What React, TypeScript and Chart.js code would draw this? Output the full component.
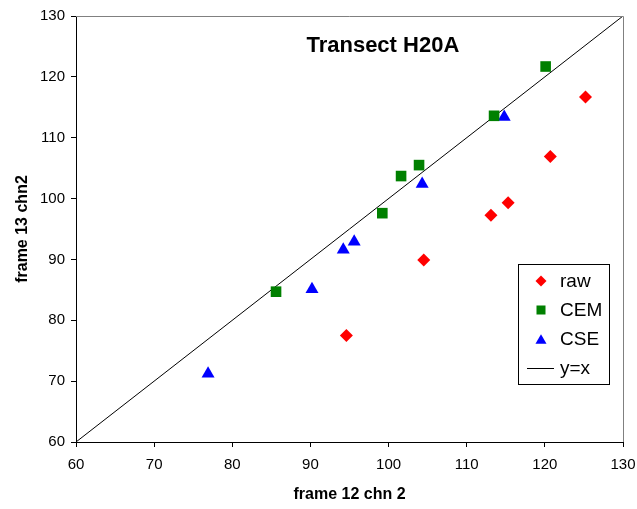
import React, { useEffect, useRef } from "react";
import { Chart, registerables } from "chart.js";

Chart.register(...registerables);

const chartTitle = "Transect H20A";
const xAxisTitle = "frame 12 chn 2";
const yAxisTitle = "frame 13 chn2";
const axisMin = 60;
const axisMax = 130;
const axisStep = 10;

const rawX = [94.6, 104.5, 113.1, 115.3, 120.7, 125.2];
const rawY = [77.5, 89.9, 97.25, 99.3, 106.9, 116.7];

const cemX = [85.6, 99.2, 101.6, 103.9, 113.5, 120.1];
const cemY = [84.7, 97.6, 103.7, 105.5, 113.6, 121.7];

const cseX = [76.9, 90.2, 94.2, 95.6, 104.3, 114.8];
const cseY = [71.2, 85.1, 91.6, 92.9, 102.4, 113.4];

const lineX = [60, 130];
const lineY = [60, 130];

const seriesLabels = ["raw", "CEM", "CSE", "y=x"];
const FONT = "'Liberation Sans', Arial, sans-serif";

const zip = (xs: number[], ys: number[]) => xs.map((x, i) => ({ x, y: ys[i] }));

function drawMarker(ctx: CanvasRenderingContext2D, style: string, x: number, y: number, r: number, color: string) {
  ctx.save();
  ctx.fillStyle = color;
  ctx.beginPath();
  if (style === "rectRot") {
    ctx.moveTo(x - r, y);
    ctx.lineTo(x, y - r);
    ctx.lineTo(x + r, y);
    ctx.lineTo(x, y + r);
    ctx.closePath();
  } else if (style === "rect") {
    const s = r * Math.SQRT1_2;
    ctx.rect(x - s, y - s, 2 * s, 2 * s);
  } else if (style === "triangle") {
    const h = r * 1.5;
    const w = r * Math.sqrt(3);
    ctx.moveTo(x, y - h / 2);
    ctx.lineTo(x + w / 2, y + h / 2);
    ctx.lineTo(x - w / 2, y + h / 2);
    ctx.closePath();
  }
  ctx.fill();
  ctx.restore();
}

const overlayPlugin = {
  id: "overlay",
  afterDraw(chart: any) {
    const { ctx, chartArea } = chart;
    const { left, right, top, bottom } = chartArea;
    // gray top/right frame
    ctx.save();
    ctx.strokeStyle = "#808080";
    ctx.lineWidth = 1;
    ctx.beginPath();
    ctx.moveTo(left, top + 0.5);
    ctx.lineTo(right + 0.5, top + 0.5);
    ctx.lineTo(right + 0.5, bottom);
    ctx.stroke();
    ctx.restore();

    // title inside plot
    ctx.save();
    ctx.fillStyle = "#000";
    ctx.font = `bold 22px ${FONT}`;
    ctx.textAlign = "center";
    ctx.textBaseline = "middle";
    ctx.fillText(chartTitle, left + (right - left) * 0.561, top + 30);
    ctx.restore();

    // legend box
    const bw = 91;
    const bh = 120;
    const bx = right - 14 - bw;
    const by = top + 248;
    ctx.save();
    ctx.fillStyle = "#fff";
    ctx.fillRect(bx, by, bw, bh);
    ctx.strokeStyle = "#000";
    ctx.lineWidth = 1;
    ctx.strokeRect(bx + 0.5, by + 0.5, bw, bh);
    ctx.font = `19px ${FONT}`;
    ctx.textBaseline = "middle";
    ctx.textAlign = "left";
    chart.data.datasets.forEach((ds: any, i: number) => {
      const cy = by + 17 + i * 29;
      const mx = bx + 23;
      if (ds.showLine) {
        ctx.strokeStyle = ds.borderColor;
        ctx.lineWidth = 1;
        ctx.beginPath();
        ctx.moveTo(bx + 9, cy + 0.5);
        ctx.lineTo(bx + 36, cy + 0.5);
        ctx.stroke();
      } else {
        drawMarker(ctx, ds.pointStyle, mx, cy, ds.pointRadius * 0.85, ds.backgroundColor);
      }
      ctx.fillStyle = "#000";
      ctx.fillText(ds.label, bx + 42, cy + 1);
    });
    ctx.restore();
  },
};

export default function App() {
  const canvasRef = useRef<HTMLCanvasElement | null>(null);

  useEffect(() => {
    document.body.style.margin = "0";
    const canvas = canvasRef.current;
    if (!canvas) return;
    const axisCommon = {
      type: "linear" as const,
      min: axisMin,
      max: axisMax,
      ticks: {
        stepSize: axisStep,
        color: "#000",
        font: { family: FONT, size: 15 },
      },
      grid: {
        display: true,
        drawOnChartArea: false,
        drawTicks: true,
        tickLength: 5,
        color: "#000",
      },
      border: { display: true, color: "#000", width: 1 },
    };
    const chart = new Chart(canvas, {
      type: "scatter",
      data: {
        datasets: [
          {
            label: seriesLabels[0],
            data: zip(rawX, rawY),
            pointStyle: "rectRot",
            pointRadius: 6.5,
            backgroundColor: "#ff0000",
            borderColor: "#ff0000",
            borderWidth: 0,
          },
          {
            label: seriesLabels[1],
            data: zip(cemX, cemY),
            pointStyle: "rect",
            pointRadius: 7.5,
            backgroundColor: "#008000",
            borderColor: "#008000",
            borderWidth: 0,
          },
          {
            label: seriesLabels[2],
            data: zip(cseX, cseY),
            pointStyle: "triangle",
            pointRadius: 7.5,
            backgroundColor: "#0000ff",
            borderColor: "#0000ff",
            borderWidth: 0,
          },
          {
            label: seriesLabels[3],
            data: zip(lineX, lineY),
            showLine: true,
            pointRadius: 0,
            borderColor: "#000",
            backgroundColor: "#000",
            borderWidth: 1,
          },
        ] as any,
      },
      options: {
        animation: false,
        responsive: false,
        maintainAspectRatio: false,
        layout: { padding: { left: 0, top: 16, right: 14, bottom: 0 } },
        plugins: {
          legend: { display: false },
          title: { display: false },
          tooltip: { enabled: false },
        },
        scales: {
          x: {
            ...axisCommon,
            position: "bottom",
            ticks: { ...axisCommon.ticks, padding: 9 },
            title: {
              display: true,
              text: xAxisTitle,
              color: "#000",
              font: { family: FONT, size: 16, weight: "bold" },
              padding: { top: 0, bottom: 5 },
            },
            afterFit(scale: any) {
              scale.height = 67;
              scale.paddingRight = 0;
              scale.paddingLeft = 0;
            },
          },
          y: {
            ...axisCommon,
            position: "left",
            ticks: { ...axisCommon.ticks, padding: 6 },
            title: {
              display: true,
              text: yAxisTitle,
              color: "#000",
              font: { family: FONT, size: 16, weight: "bold" },
              padding: { top: 13, bottom: 0 },
            },
            afterFit(scale: any) {
              scale.width = 76;
              scale.paddingTop = 0;
              scale.paddingBottom = 0;
            },
          },
        } as any,
      },
      plugins: [overlayPlugin],
    });
    return () => chart.destroy();
  }, []);

  return (
    <div style={{ width: 637, height: 509 }}>
      <canvas ref={canvasRef} width={637} height={509} style={{ width: 637, height: 509 }} />
    </div>
  );
}
